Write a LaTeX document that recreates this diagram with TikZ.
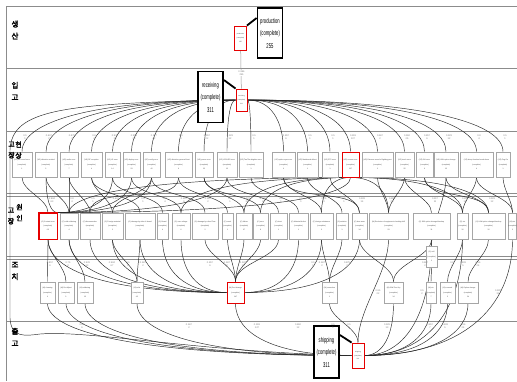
\documentclass[tikz,border=0pt]{standalone}
\usepackage{fontspec}
\setmainfont{Liberation Sans}
\newfontfamily\kr[AutoFakeBold=2.5]{Noto Sans CJK KR}
\usetikzlibrary{calc}
\pgfdeclarelayer{lanes}
\pgfdeclarelayer{edges}
\pgfsetlayers{lanes,edges,main}
\newcommand\nrw[1]{\scalebox{0.6}[1]{#1}}
\begin{document}
\begin{tikzpicture}[x=1pt,y=1pt,
  box/.style={draw=black!35, fill=white, line width=0.6pt, inner sep=0pt, align=center,
    font=\fontsize{1.8}{4.2}\selectfont, text=black!75},
  plain/.style={},
  hot/.style={draw=red!90!black, line width=0.9pt},
  callout/.style={draw=black, line width=1.8pt, fill=white, inner sep=0pt, align=center,
    font=\fontsize{7}{12.5}\selectfont, minimum width=25pt, minimum height=50pt},
  pointer/.style={line width=1.8pt, draw=black},
  flow/.style={draw=black!85, line width=0.45pt},
  gflow/.style={draw=black!40, line width=0.5pt},
  elab/.style={font=\fontsize{2.4}{3.2}\selectfont, text=black!50, align=center, inner sep=0.3pt},
  lane/.style={draw=black!45, line width=1pt},
  lanelab/.style={font=\kr\bfseries\fontsize{7.5}{12}\selectfont, align=center, inner sep=0pt},
  lanelabs/.style={font=\kr\bfseries\fontsize{7}{11}\selectfont, align=center, inner sep=0pt},
  vv/.style={out=-90,in=90,looseness=0.8},
  hv/.style={to path={.. controls ($(\tikztostart)!0.65!(\tikztotarget |- \tikztostart)$) and ($(\tikztotarget)!0.6!(\tikztotarget |- \tikztostart)$) .. (\tikztotarget)}},
  vh/.style={to path={.. controls ($(\tikztostart)!0.6!(\tikztostart |- \tikztotarget)$) and ($(\tikztotarget)!0.65!(\tikztostart |- \tikztotarget)$) .. (\tikztotarget)}}
]
\useasboundingbox (0,0) rectangle (517,-381);
\clip (0,0) rectangle (517,-381);

% ---------- lanes ----------
\begin{pgfonlayer}{lanes}
  \fill[white] (0,0) rectangle (517,-381);
  \draw[lane] (6,-6) -- (517,-6);
  \draw[lane] (6,-6) -- (6,-381);
  \draw[lane] (6,-68) -- (517,-68);
  \draw[lane] (6,-131.5) -- (517,-131.5);
  \draw[lane] (6,-193.5) -- (517,-193.5);
  \draw[lane] (6,-196.3) -- (517,-196.3);
  \draw[lane] (6,-256.5) -- (517,-256.5);
  \draw[lane] (6,-259.3) -- (517,-259.3);
  \draw[lane] (6,-321) -- (517,-321);
\end{pgfonlayer}

% ---------- start / end nodes ----------
\node[box,hot,minimum width=12pt,minimum height=24pt,font=\fontsize{1.6}{3.6}\selectfont] (P) at (240.5,-38) {production\\(complete)\\255};
\node[box,hot,minimum width=11pt,minimum height=22pt,font=\fontsize{1.6}{3.6}\selectfont] (R) at (241.5,-100) {receiving\\(complete)\\311};
\node[box,hot,minimum width=12pt,minimum height=25pt,font=\fontsize{1.6}{3.6}\selectfont] (S) at (358,-355.5) {shipping\\(complete)\\311};

\node[callout] (Pc) at (270,-33) {\nrw{production}\\\nrw{(complete)}\\\nrw{255}};
\node[callout,minimum height=51pt] (Rc) at (210.5,-97) {\nrw{receiving}\\\nrw{(complete)}\\\nrw{311}};
\node[callout,minimum height=52pt] (Sc) at (326.5,-352) {\nrw{shipping}\\\nrw{(complete)}\\\nrw{311}};
\draw[pointer] (P.north east) -- ([yshift=15pt]Pc.west);
\draw[pointer] ([yshift=17pt]Rc.east) -- (R.north west);
\draw[pointer] ([yshift=17pt]Sc.east) -- (S.north west);

% ---------- row 3 : failure symptom ----------
\foreach \n/\x/\w/\st/\txt in {
 1/22/20/plain/{(VE) no sound error\\(complete)\\1},
 2/46/22/plain/{(VE) distortion vertical\\(complete)\\2},
 3/69/18/plain/{(VE) audio error\\(complete)\\7},
 4/91.5/21/plain/{(VE) RF reception\\(complete)\\4},
 5/112.5/15/plain/{(VE) LR error\\(complete)\\14},
 6/131.5/17/plain/{(VE) display error\\(complete)\\23},
 7/151.5/17/plain/{(VE) config error\\(complete)\\42},
 8/178.5/27/plain/{(VE) distortion general front\\(complete)\\9},
 9/204/18/plain/{(VE) power error\\(complete)\\22},
 10/227/20/plain/{(VE) LCD/LED error\\(complete)\\12},
 11/251/24/plain/{(VE) Tan/Tan brighten error\\(complete)\\1},
 12/283.5/23/plain/{(VE) option sync error\\(complete)\\6},
 13/307.5/21/plain/{(VE) Mainboard defect\\(complete)\\1},
 14/330/16/plain/{(VE) PTS error\\(complete)\\1},
 15/350.5/17/hot/{(VE) screen error\\(complete)\\107},
 16/377.5/31/plain/{(VE) Extreme sound of lighting part\\(complete)\\2},
 17/404.5/19/plain/{(VE) touch error\\(complete)\\25},
 18/424.5/17/plain/{(VE) GH error\\(complete)\\6},
 19/446/24/plain/{(VE) H/W option change\\(complete)\\12},
 20/476.5/33/plain/{(VE) sleep function break down\\(complete)\\4},
 21/503/14/plain/{(VE) Fog On\\(complete)\\1}}
 {\node[box,\st,minimum width=\w pt,minimum height=25pt] (A\n) at (\x,-164.5) {\txt};}

% ---------- row 4 : failure cause ----------
\foreach \n/\x/\w/\st/\txt in {
 1/48/18/hot/{(C) Contact error\\(complete)\\63},
 2/69/18/plain/{(C) cold soldering\\(complete)\\4},
 3/90/20/plain/{(C) disconnection\\(complete)\\1},
 4/112.5/21/plain/{(C) Foreign material\\(complete)\\2},
 5/140/30/plain/{(C) damage by other \& board\\(complete)\\1},
 6/162.5/11/plain/{(C) Board\\(complete)\\4},
 7/181/18/plain/{(C) over voltage\\(complete)\\6},
 8/205/26/plain/{(C) damage by other Flow\\(complete)\\2},
 9/227.5/11/plain/{(C) crack\\(complete)\\1},
 10/244/16/plain/{(C) failure\\(complete)\\37},
 11/260.5/15/plain/{(C) error\\(complete)\\8},
 12/278.5/17/plain/{(C) short\\(complete)\\1},
 13/298.5/19/plain/{(C) Material defect\\(complete)\\1},
 14/321.5/23/plain/{(C) foreign substance\\(complete)\\3},
 15/342/12/plain/{(C) aviation\\(complete)\\1},
 16/359.5/15/plain/{(C) time-worn\\(complete)\\14},
 17/388.5/39/plain/{(M) Exclusion of equipment checking skill\\(complete)\\23},
 18/431.5/37/plain/{(C) S/W option change/checkup\\(complete)\\11},
 19/462.5/11/plain/{(C) etc\\(complete)\\10},
 20/488.5/33/plain/{(C) H/W option change/checkup\\(complete)\\12},
 21/512.5/8.5/plain/{(M) etc\\(complete)\\3}}
 {\node[box,\st,minimum width=\w pt,minimum height=26pt] (B\n) at (\x,-226) {\txt};}
\node[box,minimum width=11pt,minimum height=21pt] (N) at (431.5,-256.5) {(C) null\\(complete)\\2};
\draw[red!90!black,line width=0.9pt] (B1.south west) rectangle (B1.north east);

% ---------- row 5 : action ----------
\foreach \n/\x/\w/\st/\txt in {
 1/47.5/15/plain/{(M) cleaning\\(complete)\\6},
 2/66/16/plain/{(M) Re-Adjust\\(complete)\\3},
 3/85/16/plain/{(M) soldering\\(complete)\\13},
 4/137/12/plain/{(M) refix\\(complete)\\42},
 5/235.5/17/hot/{(M) Part change\\(complete)\\147},
 6/329.5/15/plain/{(M) correction\\(complete)\\1},
 7/393.5/19/plain/{(M) S/W Firm Up\\(complete)\\14},
 8/431/10/plain/{(M) etc\\(complete)\\7},
 9/447.5/15/plain/{(M) removal\\(complete)\\5},
 10/468/20/plain/{(M) Option change\\(complete)\\24}}
 {\node[box,\st,minimum width=\w pt,minimum height=21pt] (C\n) at (\x,-292.5) {\txt};}

% ---------- lane labels ----------
\node[lanelab] (L1) at (15,-30) {생\\산};
\node[lanelab] (L2) at (15,-91) {입\\고};
\node[lanelabs] (L3a) at (11.5,-150) {고\\장};
\node[lanelabs] (L3b) at (18.5,-150) {현\\상};
\node[lanelabs] (L4a) at (11,-216) {고\\장};
\node[lanelabs] (L4b) at (19.5,-212.5) {원\\인};
\node[lanelab] (L5) at (15,-271) {조\\치};
\node[lanelab] (L6) at (15,-337) {출\\고};

% ---------- edges ----------
\begin{pgfonlayer}{edges}
\draw[gflow] (P) -- (R);
% receiving -> symptoms
\foreach \i in {1,...,10} {\draw[flow] (R.west) to[hv] (A\i.north);}
\foreach \i in {11,...,21} {\draw[flow] (R.east) to[hv] (A\i.north);}
% symptoms -> causes
\foreach \a/\b in {1/1,2/2,3/3,3/2,4/4,4/5,5/6,6/7,7/8,7/4,8/9,8/3,9/10,9/11,10/12,11/13,12/14,12/16,13/15,14/16,16/17,17/18,17/17,18/19,18/20,19/20,20/21,20/19,21/21}
  {\draw[flow] (A\a.south) to[vv] (B\b.north);}
\foreach \a in {2,5,6,7,10,15} {\draw[flow] (A\a.south) to[vh] (B1.north east);}
\foreach \b in {2,7,10,11,14,17,19,20} {\draw[flow] (A15.south) to[hv] (B\b.north);}
\draw[flow] (A19.south) to[vv] (N.north);
% causes -> actions
\foreach \b/\c in {1/1,1/2,2/3,4/4,5/4,14/6,15/6,16/7,18/7,19/9,20/10}
  {\draw[flow] (B\b.south) to[vv] (C\c.north);}
\draw[flow] (N.south) to[vv] (C8.north);
\foreach \b in {1,2,3,4,5,6,7} {\draw[flow] (B\b.south) to[vh] (C5.west);}
\foreach \b in {8,9,10,11,12} {\draw[flow] (B\b.south) to[vv] (C5.north);}
\foreach \b in {13,14,16} {\draw[flow] (B\b.south) to[vh] (C5.east);}
% actions -> shipping
\foreach \c in {1,...,5} {\draw[flow] (C\c.south) to[vh] (S.west);}
\draw[flow] (C6.south) to[vv] (S.north);
\foreach \c in {7,...,10} {\draw[flow] (C\c.south) to[vh] (S.east);}
% causes -> shipping
\draw[flow] (B17.south) to[vv] (S.north);
\foreach \b in {18,19,21} {\draw[flow] (B\b.south) to[vh] (S.east);}
% receiving -> shipping along the margin
\draw[flow] (R.west) .. controls (60,-103) and (12,-110) .. (10,-150) -- (10,-318)
  .. controls (11,-338) and (25,-336) .. (40,-334) .. controls (90,-330) and (200,-352) .. (S.west);
\end{pgfonlayer}

% ---------- edge labels ----------
\node[elab,fill=white] (lpr) at (241.5,-73) {0.996\\255};
\foreach \n/\x/\t in {1/25/{0.5\\1},2/49/{0.667\\2},3/72/{0.875\\7},4/94/{0.8\\4},5/115/{0.933\\14},6/134/{0.958\\23},7/154/{0.977\\42},8/181/{0.9\\9},9/207/{0.957\\22},10/230/{0.923\\12},11/254/{0.5\\1},12/286/{0.857\\6},13/310/{0.5\\1},14/333/{0.5\\1},15/353/{0.991\\107},16/380/{0.667\\2},17/407/{0.962\\25},18/427/{0.857\\6},19/449/{0.923\\12},20/479/{0.8\\4},21/505/{0.5\\1}}
 {\node[elab] (la\n) at (\x,-137) {\t};}
\foreach \n/\x/\t in {1/52/{0.984\\63},2/72/{0.8\\4},3/93/{0.5\\1},4/116/{0.667\\2},5/143/{0.5\\1},6/165/{0.8\\4},7/184/{0.857\\6},8/208/{0.667\\2},9/230/{0.5\\1},10/247/{0.974\\37},11/263/{0.889\\8},12/281/{0.5\\1},13/301/{0.5\\1},14/324/{0.75\\3},15/344/{0.5\\1},16/362/{0.933\\14},17/392/{0.958\\23},18/435/{0.917\\11},19/465/{0.909\\10},20/492/{0.923\\12}}
 {\node[elab] (lb\n) at (\x,-200) {\t};}
\foreach \n/\x/\t in {1/50/{0.857\\6},2/68/{0.75\\3},3/87/{0.929\\13},4/112/{0.984\\67},5/128/{0.5\\1},6/143/{0.667\\2},7/210/{0.857\\6},8/227/{0.667\\2},9/243/{0.947\\18},10/313/{0.5\\1},11/322/{0.667\\2},12/347/{0.875\\7},13/425/{0.667\\2},14/452/{0.8\\4},15/463/{0.833\\5},16/478/{0.96\\24}}
 {\node[elab] (lc\n) at (\x,-264) {\t};}
\foreach \n/\x/\y/\t in {1/378/-292/{0.95\\22},2/422/-292/{0.5\\2},3/498/-292/{0.909\\33}}
 {\node[elab] (ld\n) at (\x,\y) {\t};}
\foreach \n/\x/\t in {1/82/{0.88\\6},2/189/{0.667\\2},3/257/{0.993\\147},4/298/{0.862\\12},5/333/{0.5\\1},6/349/{0.5\\1},7/387/{0.929\\13},8/430/{0.857\\7},9/445/{0.833\\5},10/463/{0.96\\24}}
 {\node[elab] (le\n) at (\x,-326) {\t};}
\end{tikzpicture}
\end{document}
